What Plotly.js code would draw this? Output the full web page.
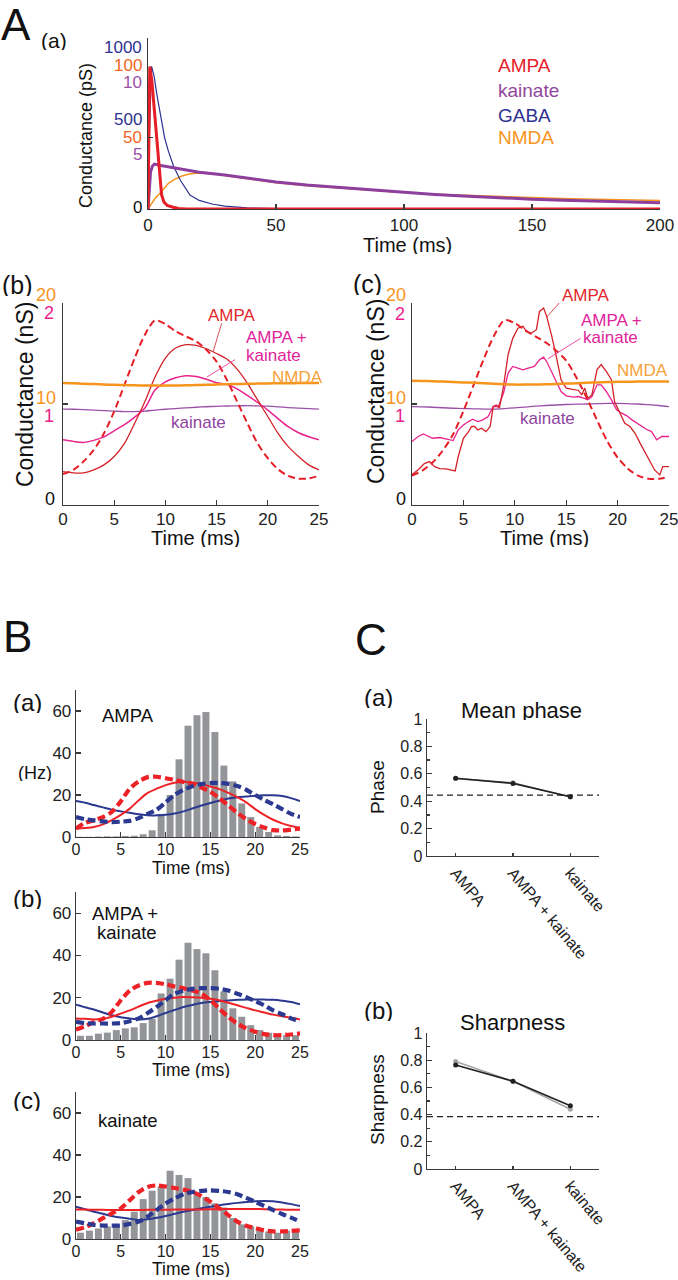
<!DOCTYPE html>
<html><head><meta charset="utf-8">
<script src="https://cdn.plot.ly/plotly-3.0.1.min.js"></script>
<style>html,body{margin:0;padding:0;background:#fff;}#chart{width:678px;height:1280px;}</style>
</head><body><div id="chart"></div>
<script>
// ---------- Panel A(a): unitary conductances (normalised to peak) ----------
const aaT_AMPA = [0,0.3,0.7,1.5,2.3,3,3.8,4.5,5.3,6.2,7.5,9.8,12,15,50,100,150,200];
const aaV_AMPA = [0,0.65,1.0,0.9,0.72,0.56,0.41,0.24,0.1,0.05,0.025,0.012,0.004,0,0,0,0,0];
const aaT_GABA = [0,0.5,1.4,2.4,3.4,5,6.5,7.9,10,12.7,16.4,20,25,30,38.7,50,60,200];
const aaV_GABA = [0,0.5,1.0,0.93,0.81,0.64,0.5,0.41,0.3,0.2,0.098,0.06,0.035,0.02,0.008,0.002,0,0];
const aaT_KAI = [0,0.5,1,1.7,2.5,5,10,15,20,30,40,50,62,75,87,100,112,125,137,150,162,175,187,200];
const aaV_KAI = [0,0.16,0.26,0.3,0.315,0.305,0.29,0.275,0.258,0.238,0.214,0.19,0.168,0.15,0.132,0.117,0.102,0.089,0.078,0.069,0.061,0.054,0.048,0.043];
const aaT_NMDA = [0,1,2,3,4.7,6,8,10,13,16,20,25,30,40,50,62,75,87,100,112,125,137,150,162,175,187,200];
const aaV_NMDA = [0,0.03,0.055,0.08,0.11,0.14,0.18,0.205,0.23,0.245,0.252,0.247,0.235,0.21,0.185,0.163,0.146,0.129,0.115,0.103,0.094,0.086,0.079,0.073,0.068,0.064,0.06];

// ---------- Panel A(b): smooth input conductances (nS; NMDA on 0-20 scale) ----------
const abT = [0,1,2,3,4,5,6,7,8,9,10,11,12,13,14,15,16,17,18,19,20,21,22,23,24,25];
const abNMDA = [12.07,12.05,12.0,11.97,11.93,11.9,11.87,11.85,11.83,11.82,11.82,11.83,11.85,11.87,11.9,11.93,11.96,11.98,12.0,12.02,12.04,12.05,12.06,12.07,12.07,12.07];
const abKAI = [0.95,0.948,0.945,0.94,0.935,0.93,0.925,0.925,0.93,0.94,0.948,0.955,0.962,0.968,0.973,0.977,0.98,0.982,0.983,0.982,0.978,0.972,0.965,0.96,0.955,0.95];
const abAK = [0.645,0.63,0.62,0.64,0.675,0.735,0.795,0.87,0.96,1.14,1.22,1.26,1.28,1.272,1.245,1.21,1.195,1.15,1.085,1.015,0.94,0.855,0.775,0.715,0.675,0.645];
const abAMPA = [0.33,0.318,0.318,0.347,0.397,0.48,0.61,0.81,1.025,1.27,1.455,1.554,1.587,1.58,1.547,1.5,1.445,1.345,1.207,1.04,0.876,0.71,0.578,0.48,0.397,0.347];
const abDash = [0.307,0.347,0.43,0.545,0.71,0.926,1.19,1.455,1.686,1.828,1.79,1.72,1.67,1.62,1.537,1.42,1.24,1.025,0.81,0.61,0.463,0.354,0.288,0.26,0.264,0.288];

// ---------- Panel A(c): noisy input conductances ----------
const acT = abT;
const acNMDA = [12.3,12.28,12.25,12.22,12.18,12.14,12.1,12.05,12.0,11.95,11.92,11.92,11.93,11.95,11.98,12.02,12.06,12.1,12.14,12.17,12.2,12.21,12.22,12.23,12.23,12.23];
const acKAI = [0.975,0.972,0.968,0.963,0.958,0.955,0.952,0.95,0.95,0.955,0.962,0.97,0.978,0.985,0.99,0.995,0.998,1.0,1.003,1.006,1.006,1.003,1.0,0.993,0.985,0.975];
const acDash = [0.29,0.34,0.42,0.54,0.70,0.93,1.19,1.45,1.68,1.83,1.80,1.73,1.67,1.61,1.53,1.43,1.26,1.06,0.84,0.63,0.47,0.36,0.29,0.26,0.26,0.28];
const acT_AMPA = [0,0.6,1.2,1.7,2.2,2.7,3.3,3.8,4.2,4.5,5.0,5.5,5.8,6.1,6.4,6.75,7.2,7.6,7.9,8.2,8.5,8.9,9.35,9.8,10.3,10.8,11.1,11.6,12.1,12.4,12.8,13.1,13.6,14.1,14.5,15.0,15.7,16.2,16.5,16.8,17.1,17.5,18.0,18.4,18.9,19.4,19.7,20.2,20.7,21.2,21.7,22.2,22.7,23.1,23.6,24.1,24.4,25];
const acV_AMPA = [0.30,0.35,0.41,0.43,0.38,0.36,0.357,0.347,0.337,0.48,0.66,0.727,0.777,0.777,0.744,0.76,0.727,0.777,0.975,0.99,0.96,1.174,1.49,1.65,1.75,1.77,1.72,1.70,1.736,1.917,1.95,1.868,1.67,1.44,1.24,1.157,1.14,1.134,1.09,1.157,1.058,1.09,1.34,1.39,1.322,1.24,1.025,0.91,0.81,0.777,0.71,0.61,0.512,0.43,0.347,0.298,0.38,0.38];
const acT_AK = [0,0.6,1.1,1.6,2.0,2.7,3.3,4.0,4.5,5.0,5.5,5.9,6.4,6.9,7.4,7.9,8.4,8.9,9.35,9.8,10.3,10.8,11.3,11.9,12.4,12.8,13.1,13.6,14.1,14.5,15.0,15.7,16.2,16.7,17.1,17.5,18.0,18.4,18.9,19.4,19.9,20.4,20.9,21.4,21.9,22.3,22.8,23.3,23.8,24.3,25];
const acV_AK = [0.628,0.678,0.704,0.678,0.661,0.668,0.651,0.638,0.744,0.793,0.826,0.85,0.826,0.843,0.876,0.975,0.975,1.107,1.306,1.372,1.355,1.339,1.355,1.372,1.438,1.464,1.42,1.306,1.207,1.124,1.081,1.068,1.074,1.058,1.041,1.074,1.19,1.19,1.124,1.041,0.942,0.909,0.883,0.843,0.81,0.777,0.75,0.727,0.645,0.678,0.678];

// ---------- Panel B: firing-rate histograms (Hz) and input rates ----------
const bT = abT;
const binCenters = [0.5,1.5,2.5,3.5,4.5,5.5,6.5,7.5,8.5,9.5,10.5,11.5,12.5,13.5,14.5,15.5,16.5,17.5,18.5,19.5,20.5,21.5,22.5,23.5,24.5];
const baBars = [0.1,0.1,0.2,0.3,0.3,0.5,0.6,1.3,3.2,11,20,37,53,58,59.5,50,34,26.5,16,9.5,4.8,2.4,0.8,0.5,0.3];
const baRedDash = [4,6.7,8,9.5,12,17,23,26.5,28.5,28.7,28,27.2,26.2,25.3,23.5,21.5,18.5,15,11.5,8.5,6.2,4.5,3.3,3.1,3.5,4];
const baRed = [4,4.3,4.8,6,8,10.5,13.5,17.5,21,23,24.7,25.8,26.2,26,25.2,24,22.8,21,19,16.5,13.3,10.5,8.2,6.5,5.2,4.4];
const baBlue = [17.1,16.3,15.2,14.1,13,12.2,11.5,10.8,10.4,10.3,10.6,11.2,12.2,13.6,15,16.2,17.3,18.3,18.9,19.3,19.7,19.9,19.9,19.5,18.5,17.1];
const baBlueDash = [9.5,8.5,7.9,7.4,7.1,7.3,7.7,9,11,13,16.5,20,22.5,24.2,25.2,25.7,25.7,25.3,24.3,22.5,20,17.7,15.6,13.3,11,9.5];

const bbBars = [2,2,3,3.5,4.7,5.5,6,8,10,22,29,38,46,43,41,33,23,15,11,7,4.7,3.4,2.8,2.3,2.3];
const bbRedDash = [5,6.5,8.6,10,13.3,18.8,23.4,25.8,27,27,26.3,25.3,24.5,23.4,21.9,18.8,14.8,10.9,7.8,5.5,3.9,2.8,2.3,2.3,2.6,3.1];
const bbRed = [10.2,10,9.7,10,11,12.5,14,15.8,17.5,18.6,19.5,20,20.3,20.2,20,19.5,18.8,17.6,16.4,15.2,14,13,12,11.2,10.5,9.7];
const bbBlue = [16.7,15.5,14.4,13,11.7,10.8,10.2,9.7,10,11.2,12.8,14.2,15.6,16.6,17.5,18,18.4,18.7,19,19.1,19.2,19.1,19,18.6,18,16.9];
const bbBlueDash = [8.6,8,7.8,7.8,7.8,8,8.9,10.2,12.8,15.6,18.8,21.9,23.4,24.2,24.5,24.5,24.2,23.4,21.9,20.3,18.4,16.4,14,12.2,10.2,8.6];

const bcBars = [3,4,5,6,7,9,13,19,23,25,32.5,30.5,29,22,20,17,15,10,7,6,4.7,3.6,3,4,4.5];
const bcRed = [14,14,13.9,13.9,13.8,13.8,13.8,13.8,13.9,13.9,13.9,14,14,14.1,14.1,14.2,14.2,14.3,14.3,14.3,14.3,14.2,14.1,14,13.9,13.9];
const bcRedDash = [4.4,5.6,7.5,9.9,12.2,14.6,18.5,22.4,24.8,25.5,25,24.3,23.5,22.4,20.4,17.7,14.6,11.4,8.3,6.3,5.2,4.1,3.6,3.6,3.9,4.1];
const bcBlue = [15.4,14.2,13,12,11,10.2,9.6,9.1,9.4,10.1,11,12,13,13.8,14.6,15.4,16.1,16.7,17.2,17.6,18,18.1,18,17.4,16.6,15.7];
const bcBlueDash = [8.3,7.5,6.7,6.4,6.4,6.4,7.2,8.3,10.7,13.8,16.9,19.3,21.3,22.4,22.9,23.2,22.9,22.4,21.3,19.6,17.7,15.7,13.8,11.9,10.2,8.3];

// ---------- Panel C ----------
const categories = ['AMPA','AMPA + kainate','kainate'];
const catPos = [1,2,3];
const phaseBlack = [0.567,0.53,0.433];
const phaseGray = [0.565,0.535,0.43];
const phaseRef = 0.445;
const sharpBlack = [0.765,0.645,0.465];
const sharpGray = [0.79,0.645,0.44];
const sharpRef = 0.385;

// ---------- styling ----------
const F = 'Liberation Sans, Arial, Helvetica, sans-serif';
const W = 678, H = 1280;
const px = v => v / W;
const py = v => 1 - v / H;
const C_AMPA = '#e61e27', C_AMPA2 = '#d2232a', C_KAI = '#8e3f9e', C_GABA = '#2e3192', C_NMDA = '#f7941d';
const C_AK = '#e8238e', C_KAI2 = '#9b51a8', C_RED = '#ec2227', C_BLUE = '#2b3990', C_BAR = '#939598';

function axis(d, range, extra) {
  return Object.assign({
    domain: d, range: range, showline: true, linecolor: '#3a3a3a', linewidth: 1.3,
    ticks: 'inside', ticklen: 5, tickwidth: 1.2, tickcolor: '#3a3a3a',
    showgrid: false, zeroline: false, fixedrange: true, ticklabeloverflow: 'allow',
    tickfont: {family: F, size: 17, color: '#222'}
  }, extra || {});
}
function ln(x, y, xa, ya, color, width, dash, shape) {
  return {type: 'scatter', mode: 'lines', x: x, y: y, xaxis: xa, yaxis: ya,
    line: {color: color, width: width, dash: dash || 'solid', shape: shape || 'linear', smoothing: 0.8},
    hoverinfo: 'skip'};
}

const traces = [];
// A(a)
traces.push(ln(aaT_NMDA, aaV_NMDA, 'x', 'y', C_NMDA, 1.5));
traces.push(ln(aaT_GABA, aaV_GABA, 'x', 'y', C_GABA, 1.2));
traces.push(ln(aaT_KAI, aaV_KAI, 'x', 'y', C_KAI, 3));
traces.push(ln(aaT_AMPA, aaV_AMPA, 'x', 'y', C_AMPA, 3));
// A(b)
traces.push(ln(abT, abKAI, 'x2', 'y2', C_KAI2, 1.3, 'solid', 'spline'));
traces.push(ln(abT, abNMDA, 'x2', 'y9', C_NMDA, 2.5, 'solid', 'spline'));
traces.push(ln(abT, abAK, 'x2', 'y2', C_AK, 1.5, 'solid', 'spline'));
traces.push(ln(abT, abAMPA, 'x2', 'y2', C_AMPA2, 1.3, 'solid', 'spline'));
traces.push(ln(abT, abDash, 'x2', 'y2', C_AMPA, 2, '7px,4px', 'spline'));
// A(c)
traces.push(ln(acT, acKAI, 'x3', 'y3', C_KAI2, 1.3, 'solid', 'spline'));
traces.push(ln(acT, acNMDA, 'x3', 'y10', C_NMDA, 2.5, 'solid', 'spline'));
traces.push(ln(acT_AK, acV_AK, 'x3', 'y3', C_AK, 1.3));
traces.push(ln(acT_AMPA, acV_AMPA, 'x3', 'y3', C_AMPA2, 1.3));
traces.push(ln(acT, acDash, 'x3', 'y3', C_AMPA, 2, '7px,4px', 'spline'));
// B panels
const bSets = [
  ['x4','y4', baBars, baRed, baBlue, baRedDash, baBlueDash],
  ['x5','y5', bbBars, bbRed, bbBlue, bbRedDash, bbBlueDash],
  ['x6','y6', bcBars, bcRed, bcBlue, bcRedDash, bcBlueDash]
];
bSets.forEach(s => {
  traces.push({type: 'bar', x: binCenters, y: s[2], xaxis: s[0], yaxis: s[1], width: 0.78,
    marker: {color: C_BAR, line: {width: 0}}, hoverinfo: 'skip'});
  traces.push(ln(bT, s[4], s[0], s[1], C_BLUE, 2, 'solid', 'spline'));
  traces.push(ln(bT, s[3], s[0], s[1], C_RED, 2, 'solid', 'spline'));
  traces.push(ln(bT, s[5], s[0], s[1], C_RED, 4.2, '8px,4px', 'spline'));
  traces.push(ln(bT, s[6], s[0], s[1], C_BLUE, 4.2, '8px,4px', 'spline'));
});
// C panels
[['x7','y7', phaseGray, phaseBlack], ['x8','y8', sharpGray, sharpBlack]].forEach(s => {
  traces.push({type: 'scatter', mode: 'lines+markers', x: catPos, y: s[2], xaxis: s[0], yaxis: s[1],
    line: {color: '#a6a6a6', width: 1.6}, marker: {color: '#a6a6a6', size: 5}, hoverinfo: 'skip'});
  traces.push({type: 'scatter', mode: 'lines+markers', x: catPos, y: s[3], xaxis: s[0], yaxis: s[1],
    line: {color: '#222', width: 1.6}, marker: {color: '#222', size: 5}, hoverinfo: 'skip'});
});

const yA = [py(209), py(38)];
const yBC = [py(505), py(303)];
const bx = {dtick: 5, ticklabelstandoff: -3, tickfont: {family: F, size: 16, color: '#222'}};
const cx = {tickvals: catPos, ticktext: categories, tickangle: 50, ticklen: 3, tickfont: {family: F, size: 16, color: '#222'}};
const cy = {dtick: 0.2, tickfont: {family: F, size: 16, color: '#222'},
    minor: {dtick: 0.1, ticks: 'inside', ticklen: 3, tickcolor: '#3a3a3a'}};
const layout = {
  width: W, height: H, margin: {l: 0, r: 0, t: 0, b: 0},
  paper_bgcolor: '#fff', plot_bgcolor: 'rgba(0,0,0,0)', showlegend: false,
  font: {family: F, color: '#222'},
  xaxis: axis([px(148), px(660)], [0, 200], {anchor: 'y', tickvals: [0,50,100,150,200]}),
  yaxis: axis(yA, [0, 1.2], {anchor: 'x', tickvals: [0, 0.5], showticklabels: false}),
  xaxis2: axis([px(63), px(319)], [0, 25], {anchor: 'y2', dtick: 5, ticklabelstandoff: -2}),
  yaxis2: axis(yBC, [0, 2], {anchor: 'x2', tickvals: [0,1,2], showticklabels: false}),
  yaxis9: {overlaying: 'y2', range: [0, 20], visible: false, fixedrange: true, anchor: 'x2'},
  xaxis3: axis([px(412), px(669)], [0, 25], {anchor: 'y3', dtick: 5, ticklabelstandoff: -2}),
  yaxis3: axis(yBC, [0, 2], {anchor: 'x3', tickvals: [0,1,2], showticklabels: false}),
  yaxis10: {overlaying: 'y3', range: [0, 20], visible: false, fixedrange: true, anchor: 'x3'},
  xaxis4: axis([px(76), px(300)], [0, 25], Object.assign({anchor: 'y4'}, bx)),
  yaxis4: axis([py(837), py(690)], [0, 70], {anchor: 'x4', tickvals: [0,20,40,60]}),
  xaxis5: axis([px(76), px(300)], [0, 25], Object.assign({anchor: 'y5'}, bx)),
  yaxis5: axis([py(1040), py(892)], [0, 70], {anchor: 'x5', tickvals: [0,20,40,60]}),
  xaxis6: axis([px(76), px(300)], [0, 25], Object.assign({anchor: 'y6'}, bx)),
  yaxis6: axis([py(1239), py(1092)], [0, 70], {anchor: 'x6', tickvals: [0,20,40,60]}),
  xaxis7: axis([px(427), px(599)], [0.5, 3.5], Object.assign({anchor: 'y7'}, cx)),
  yaxis7: axis([py(856), py(719)], [0, 1], Object.assign({anchor: 'x7'}, cy)),
  xaxis8: axis([px(427), px(599)], [0.5, 3.5], Object.assign({anchor: 'y8'}, cx)),
  yaxis8: axis([py(1169), py(1033)], [0, 1], Object.assign({anchor: 'x8'}, cy)),
  shapes: [
    {type: 'line', xref: 'x7 domain', yref: 'y7', x0: 0, x1: 1, y0: phaseRef, y1: phaseRef, line: {color: '#222', width: 1.3, dash: '6px,4px'}},
    {type: 'line', xref: 'x8 domain', yref: 'y8', x0: 0, x1: 1, y0: sharpRef, y1: sharpRef, line: {color: '#222', width: 1.3, dash: '6px,4px'}},
    {type: 'line', xref: 'x2', yref: 'y2', x0: 15.5, y0: 1.80, x1: 14.65, y1: 1.515, line: {color: C_AMPA2, width: 0.8}},
    {type: 'line', xref: 'x2', yref: 'y2', x0: 16.8, y0: 1.44, x1: 14.06, y1: 1.267, line: {color: C_AK, width: 0.8}},
    {type: 'line', xref: 'x3', yref: 'y3', x0: 14.4, y0: 2.01, x1: 13.1, y1: 1.86, line: {color: C_AMPA2, width: 0.8}},
    {type: 'line', xref: 'x3', yref: 'y3', x0: 16.4, y0: 1.65, x1: 13.2, y1: 1.446, line: {color: C_AK, width: 0.8}}
  ],
  annotations: []
};

function T(text, x, y, size, color, opts) {
  const a = Object.assign({text: text, xref: 'paper', yref: 'paper', x: px(x), y: py(y),
    showarrow: false, xanchor: 'center', yanchor: 'middle', borderpad: 0,
    font: {family: F, size: size, color: color}}, opts || {});
  if (a.textangle === undefined && a.height === undefined) a.height = Math.round(size * 0.9);
  layout.annotations.push(a);
}
const L = {xanchor: 'left'}, R = {xanchor: 'right'}, V = {textangle: -90};
// A(a)
T('A', 0, 24, 44, '#111', {xanchor: 'left', height: 34});
T('(a)', 40, 41, 21, '#111', L);
T('Conductance (pS)', 86, 136, 18, '#111', V);
T('1000', 143, 48, 17, C_GABA, R);
T('100', 143, 66, 17, '#f26522', R);
T('10', 143, 82, 17, '#9b4fa5', R);
T('500', 143, 119, 17, C_GABA, R);
T('50', 143, 137, 17, '#f26522', R);
T('5', 143, 154, 17, '#9b4fa5', R);
T('0', 143, 207, 17, '#111', R);
T('Time (ms)', 407, 245, 20, '#111');
T('AMPA', 497, 66, 19, '#e8202a', L);
T('kainate', 497, 91, 19, '#92479b', L);
T('GABA', 497, 115, 19, C_GABA, L);
T('NMDA', 497, 138, 19, C_NMDA, L);
// A(b)
T('(b)', 1, 284, 25, '#111', L);
T('Conductance (nS)', 25, 395, 23, '#111', V);
T('20', 57, 295, 18, C_NMDA, R);
T('2', 55, 313, 18, '#ec1c8c', R);
T('10', 57, 398, 18, C_NMDA, R);
T('1', 55, 416, 18, '#ec1c8c', R);
T('0', 56, 499, 18, '#111', R);
T('Time (ms)', 195, 538, 20, '#111');
T('AMPA', 232, 315, 17, '#e2262c');
T('AMPA +', 276, 337, 17, '#e0249a', {height: 13});
T('kainate', 273, 355, 17, '#e0249a', {height: 13});
T('NMDA', 297, 377, 17, '#f7a13a');
T('kainate', 199, 422, 17, '#8e44a0');
// A(c)
T('(c)', 352, 283, 25, '#111', L);
T('Conductance (nS)', 376, 392, 23, '#111', V);
T('20', 407, 295, 18, C_NMDA, R);
T('2', 406, 314, 18, '#ec1c8c', R);
T('10', 407, 398, 18, C_NMDA, R);
T('1', 406, 416, 18, '#ec1c8c', R);
T('0', 407, 499, 18, '#111', R);
T('Time (ms)', 544, 538, 20, '#111');
T('AMPA', 586, 295, 17, '#e2262c');
T('AMPA +', 611, 320, 17, '#e0249a', {height: 13});
T('kainate', 610, 337, 17, '#e0249a', {height: 13});
T('NMDA', 642, 370, 17, '#f7a13a');
T('kainate', 547, 418, 17, '#8e44a0');
// B
T('B', 2, 636, 44, '#111', L);
T('(a)', 12, 702, 24, '#111', L);
T('AMPA', 128, 715, 18.5, '#111');
T('(Hz)', 35, 773, 18, '#111');
T('Time (ms)', 191, 868, 17.5, '#111');
T('(b)', 12, 898, 24, '#111', L);
T('AMPA +', 125, 913, 18.5, '#111');
T('kainate', 127, 932, 18.5, '#111');
T('Time (ms)', 191, 1070, 17.5, '#111');
T('(c)', 12, 1100, 24, '#111', L);
T('kainate', 128, 1120, 18.5, '#111');
T('Time (ms)', 191, 1269, 17.5, '#111');
// C
T('C', 354, 639, 44, '#111', L);
T('(a)', 363, 697, 24, '#111', L);
T('Mean phase', 521, 710, 22, '#111');
T('Phase', 377, 787, 19, '#111', V);
T('(b)', 363, 1010, 24, '#111', L);
T('Sharpness', 512, 1022, 22, '#111');
T('Sharpness', 377, 1100, 19, '#111', V);

Plotly.newPlot('chart', traces, layout, {staticPlot: true, displayModeBar: false});
</script></body></html>
